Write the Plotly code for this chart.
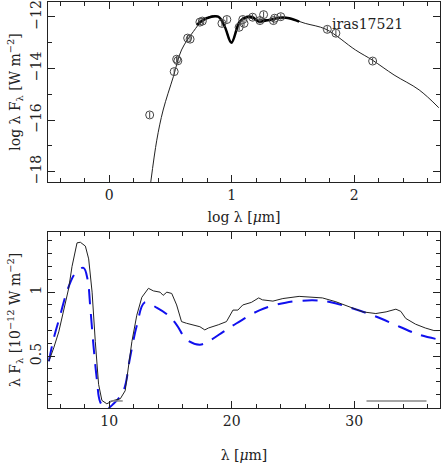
import plotly.graph_objects as go
from plotly.subplots import make_subplots

# top panel: photometry (log lambda [um], log lambda F_lambda [W m^-2])
phot_logl = [0.33, 0.53, 0.55, 0.56, 0.64, 0.66, 0.74, 0.76, 0.92, 0.96,
             1.06, 1.09, 1.10, 1.17, 1.23, 1.26, 1.34, 1.35, 1.40, 1.78,
             1.85, 2.15]
phot_logf = [-15.8, -14.12, -13.64, -13.7, -12.82, -12.86, -12.2, -12.16,
             -12.25, -12.1, -12.4, -12.1, -12.25, -12.01, -12.14, -11.91,
             -12.14, -12.05, -11.99, -12.48, -12.63, -13.71]
phot_err = [0.12] * len(phot_logl)

# model SED (thin line)
model_logl = [0.339, 0.388, 0.44, 0.523, 0.59, 0.686, 0.767, 0.875, 0.94,
              0.997, 1.06, 1.10, 1.2, 1.3, 1.4, 1.5, 1.6, 1.77, 2.01, 2.15,
              2.325, 2.53, 2.69]
model_logf = [-18.4, -16.78, -15.61, -14.32, -13.28, -12.57, -12.12, -11.95,
              -12.35, -12.95, -12.25, -12.05, -12.08, -12.1, -12.03, -12.1,
              -12.25, -12.48, -13.28, -13.68, -14.25, -14.83, -15.52]

# ISO spectrum (thick line)
iso_logl = [0.713, 0.794, 0.889, 0.943, 0.997, 1.065, 1.12, 1.17, 1.22,
            1.28, 1.336, 1.39, 1.47, 1.55]
iso_logf = [-12.31, -12.05, -11.99, -12.38, -13.0, -12.18, -12.0, -12.01,
            -12.18, -12.14, -12.09, -12.03, -12.05, -12.18]

# bottom panel: spectrum and model (lambda [um], lambda F_lambda [1e-12 W m^-2])
spec_l = [5.07, 5.47, 5.88, 6.28, 6.69, 6.96, 7.37, 7.64, 8.05, 8.32, 8.6,
          8.86, 9.13, 9.4, 9.8, 10.35, 10.9, 11.3, 11.57, 11.85, 12.25,
          12.66, 13.2, 13.6, 14.15, 14.4, 14.7, 15.1, 15.5, 15.9, 16.3,
          16.7, 17.4, 17.8, 18.1, 18.9, 19.57, 20.1, 20.5, 20.9, 21.6,
          22.2, 22.5, 23.36, 24.17, 25.5, 26.34, 27.4, 28.5, 29.6, 30.7,
          31.76, 32.6, 33.4, 33.8, 34.2, 35.0, 35.8, 36.5, 36.9]
spec_f = [0.46, 0.565, 0.69, 0.87, 1.03, 1.2, 1.385, 1.39, 1.36, 1.26, 1.0,
          0.615, 0.28, 0.154, 0.128, 0.154, 0.167, 0.23, 0.41, 0.615, 0.82,
          0.96, 1.03, 1.01, 1.0, 0.975, 1.0, 0.99, 0.9, 0.77, 0.757, 0.745,
          0.73, 0.705, 0.72, 0.745, 0.77, 0.86, 0.86, 0.9, 0.92, 0.955,
          0.94, 0.93, 0.95, 0.967, 0.962, 0.955, 0.925, 0.885, 0.846, 0.833,
          0.846, 0.867, 0.85, 0.795, 0.75, 0.72, 0.7, 0.7]

fit_l = [5.07, 5.47, 6.0, 6.56, 7.24, 7.9, 8.23, 8.46, 8.73, 9.0, 9.27, 9.76,
         10.35, 11.16, 11.7, 12.25, 12.9, 13.9, 14.8, 15.5, 16.3, 17.4,
         18.35, 19.3, 20.4, 22.3, 24.4, 26.6, 28.0, 29.9, 31.76, 33.7, 35.3,
         36.9]
fit_f = [0.46, 0.64, 0.82, 1.01, 1.15, 1.19, 1.1, 0.87, 0.565, 0.31, 0.14,
         0.09, 0.128, 0.23, 0.49, 0.74, 0.92, 0.877, 0.82, 0.745, 0.63,
         0.59, 0.63, 0.69, 0.757, 0.86, 0.918, 0.936, 0.923, 0.872, 0.81,
         0.73, 0.667, 0.63]

# grey bars
bar_l = [10.1, 11.1, None, 31.0, 35.9]
bar_f = [0.15, 0.15, None, 0.15, 0.15]

ink = "#222222"
font = "DejaVu Serif"

fig = make_subplots(rows=2, cols=1, vertical_spacing=0.12)

fig.add_trace(go.Scatter(x=model_logl, y=model_logf, mode="lines",
                         line=dict(color=ink, width=1), line_shape="spline"),
              row=1, col=1)
fig.add_trace(go.Scatter(x=iso_logl, y=iso_logf, mode="lines",
                         line=dict(color="black", width=2.5), line_shape="spline"),
              row=1, col=1)
fig.add_trace(go.Scatter(x=phot_logl, y=phot_logf, mode="markers",
                         marker=dict(symbol="circle-open", size=8,
                                     color="#444444", line=dict(width=1)),
                         error_y=dict(type="data", array=phot_err, width=0,
                                      thickness=1, color="#444444")),
              row=1, col=1)

fig.add_trace(go.Scatter(x=fit_l, y=fit_f, mode="lines", line_shape="spline",
                         line=dict(color="#1010ee", width=2, dash="15px,10px")),
              row=2, col=1)
fig.add_trace(go.Scatter(x=spec_l, y=spec_f, mode="lines",
                         line=dict(color=ink, width=1)),
              row=2, col=1)
fig.add_trace(go.Scatter(x=bar_l, y=bar_f, mode="lines",
                         line=dict(color="#888888", width=1.5)),
              row=2, col=1)

fig.add_annotation(x=1.8, y=-12.27, xref="x", yref="y", text="iras17521",
                   showarrow=False, xanchor="left",
                   font=dict(family=font, size=14, color=ink))

axis_style = dict(showline=True, linecolor=ink, linewidth=1, mirror="allticks",
                  ticks="inside", ticklen=7, tickcolor=ink, showgrid=False,
                  zeroline=False, automargin=False,
                  tickfont=dict(family=font, size=14, color=ink))
title_font = dict(family=font, size=14, color=ink)

fig.update_xaxes(range=[-0.5, 2.7], dtick=1, tick0=0,
                 minor=dict(dtick=0.2, ticks="inside", ticklen=4, tickcolor=ink),
                 title=dict(text="log λ [<i>μ</i>m]", standoff=10, font=title_font),
                 row=1, col=1, **axis_style)
fig.update_yaxes(range=[-18.4, -11.42], dtick=2, tick0=0, tickangle=-90,
                 minor=dict(dtick=1, ticks="inside", ticklen=4, tickcolor=ink),
                 title=dict(text="log λ F<sub>λ</sub> [W m<sup>−2</sup>]",
                            standoff=4, font=title_font),
                 row=1, col=1, **axis_style)
fig.update_xaxes(range=[5, 37], dtick=10, tick0=0,
                 minor=dict(dtick=2, ticks="inside", ticklen=4, tickcolor=ink),
                 title=dict(text="λ [<i>μ</i>m]", standoff=22, font=title_font),
                 row=2, col=1, **axis_style)
fig.update_yaxes(range=[0.095, 1.47], dtick=0.5, tick0=0, tickangle=-90,
                 minor=dict(dtick=0.1, ticks="inside", ticklen=4, tickcolor=ink),
                 title=dict(text="λ F<sub>λ</sub> [10<sup>−12</sup> W m<sup>−2</sup>]",
                            standoff=4, font=title_font),
                 row=2, col=1, **axis_style)

fig.update_layout(
    width=441, height=463,
    margin=dict(l=48, r=1, t=2, b=55),
    showlegend=False,
    hovermode=False,
    plot_bgcolor="white", paper_bgcolor="white",
    xaxis=dict(domain=[0, 1]),
    yaxis=dict(domain=[0.5567, 1]),
    xaxis2=dict(domain=[0, 1]),
    yaxis2=dict(domain=[0, 0.4335]),
)

# drop the browser's default page margin so the figure sits at the corner
fig.write_html("out.html", config={"displayModeBar": False},
               post_script="document.body.style.margin='0';")
